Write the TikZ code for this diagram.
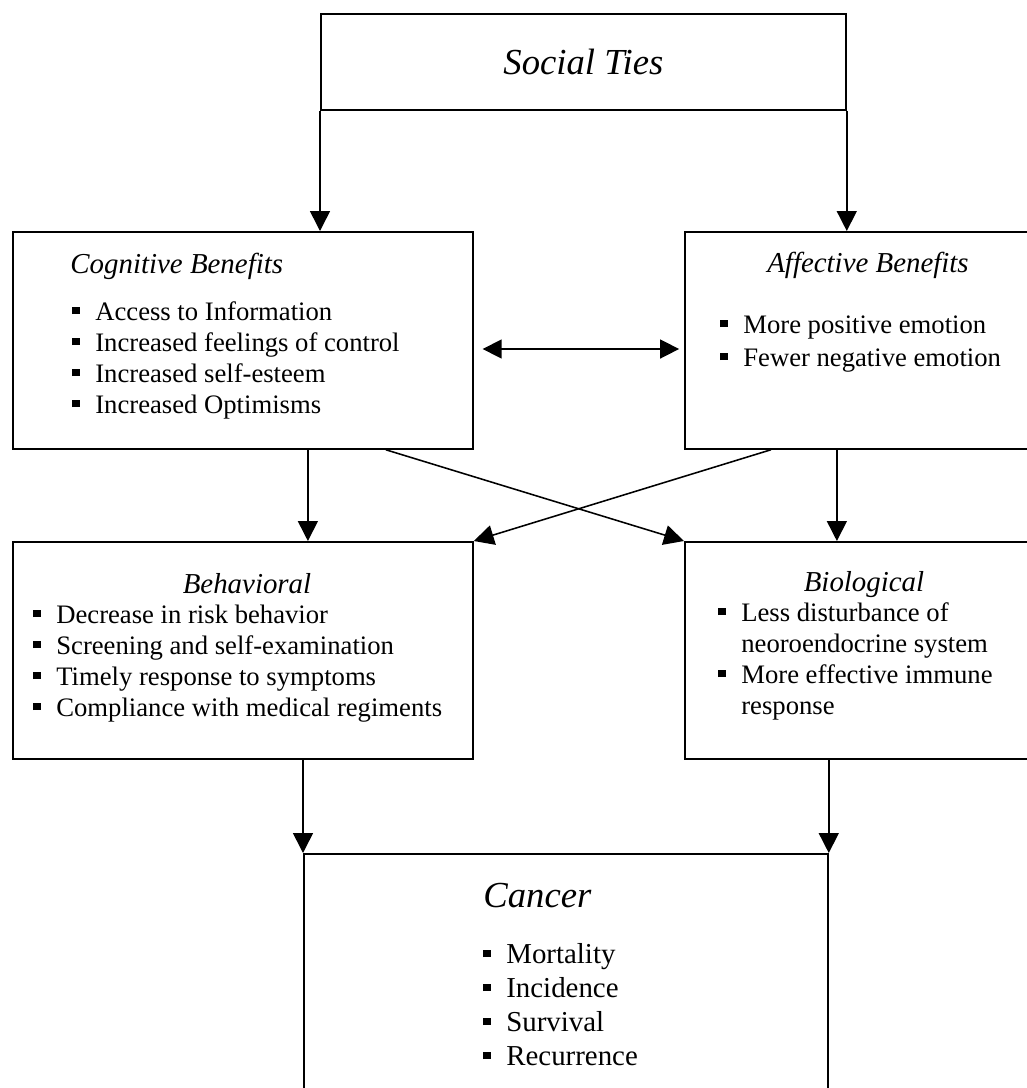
\documentclass[tikz,border=0pt]{standalone}
\usepackage{fontspec}
\setmainfont{Liberation Serif}
\usetikzlibrary{arrows.meta,calc}
\newcommand{\sqb}{\makebox[10.3pt][l]{\rule[2.7pt]{3.2pt}{3.2pt}}}
\newcommand{\itemlist}[1]{\begin{tabular}[t]{@{}l@{}}#1\end{tabular}}

\begin{document}
\begin{tikzpicture}[
    x=0.45pt, y=-0.45pt,
    box/.style={rectangle, draw, line width=0.8pt, inner sep=0pt, anchor=north west},
    arrow/.style={-{Triangle[length=9pt, width=9pt]}, line width=0.7pt},
    dblarrow/.style={{Triangle[length=8.5pt, width=8.5pt]}-{Triangle[length=8.5pt, width=8.5pt]}, line width=0.7pt},
    head/.style={font=\fontsize{13}{15}\selectfont\itshape, inner sep=0pt, anchor=base},
    items/.style={font=\fontsize{12}{13.95}\selectfont, inner sep=0pt, anchor=base west}
]
    \useasboundingbox (0,0) rectangle (1027,1088);
    \clip (0,0) rectangle (1027,1088);

    % boxes
    \node[box, minimum width=236.25pt, minimum height=43.2pt, font=\fontsize{16.5}{19}\selectfont\itshape] (social) at (320,13) {Social Ties};
    \node[box, minimum width=207pt, minimum height=97.65pt] (cog) at (12,231) {};
    \node[box, minimum width=171pt, minimum height=97.65pt] (aff) at (684,231) {};
    \node[box, minimum width=207pt, minimum height=97.65pt] (beh) at (12,541) {};
    \node[box, minimum width=171pt, minimum height=97.65pt] (bio) at (684,541) {};
    \node[box, minimum width=235.8pt, minimum height=117pt] (cancer) at (303,853) {};

    % texts
    \node[head, anchor=base west] (coghead) at (70,273) {Cognitive Benefits};
    \node[items] (coglist) at (72,320) {\itemlist{\sqb Access to Information\\
        \sqb Increased feelings of control\\ \sqb Increased self-esteem\\ \sqb Increased Optimisms}};
    \node[head] (affhead) at (868,272) {Affective Benefits};
    \node[items, font=\fontsize{12}{14.85}\selectfont] (afflist) at (720,333) {\itemlist{\sqb More positive emotion\\
        \sqb Fewer negative emotion}};
    \node[head] (behhead) at (247,593) {Behavioral};
    \node[items] (behlist) at (33,623) {\itemlist{\sqb Decrease in risk behavior\\
        \sqb Screening and self-examination\\ \sqb Timely response to symptoms\\
        \sqb Compliance with medical regiments}};
    \node[head] (biohead) at (864,591) {Biological};
    \node[items] (biolist) at (718,621) {\itemlist{\sqb Less disturbance of\\
        \hspace*{10.3pt}neoroendocrine system\\ \sqb More effective immune\\ \hspace*{10.3pt}response}};
    \node[head, anchor=base west, font=\fontsize{16.5}{19}\selectfont\itshape] (cancerhead) at (483,907) {Cancer};
    \node[items, font=\fontsize{13}{15.3}\selectfont] (cancerlist) at (483,963) {\itemlist{\sqb Mortality\\
        \sqb Incidence\\ \sqb Survival\\ \sqb Recurrence}};

    % connectors
    \coordinate (link) at (580,349);
    \coordinate (cogdown) at ($(cog.south)+(65,0)$);
    \coordinate (cogcross) at ($(cog.south)+(143,0)$);
    \coordinate (affdown) at ($(aff.south)+(-38,0)$);
    \coordinate (affcross) at ($(aff.south)+(-104,0)$);

    \draw[arrow] (social.south west) -- (social.south west |- cog.north);
    \draw[arrow] (social.south east) -- (social.south east |- aff.north);
    \draw[dblarrow, shorten <=4pt, shorten >=2.2pt] (link -| cog.east) -- (link -| aff.west);
    \draw[arrow] (cogdown) -- (cogdown |- beh.north);
    \draw[arrow] (affdown) -- (affdown |- bio.north);
    \draw[arrow] (cogcross) -- (bio.north west);
    \draw[arrow] (affcross) -- (beh.north east);
    \draw[arrow] (cancer.north west |- beh.south) -- (cancer.north west);
    \draw[arrow] (cancer.north east |- bio.south) -- (cancer.north east);
\end{tikzpicture}
\end{document}
